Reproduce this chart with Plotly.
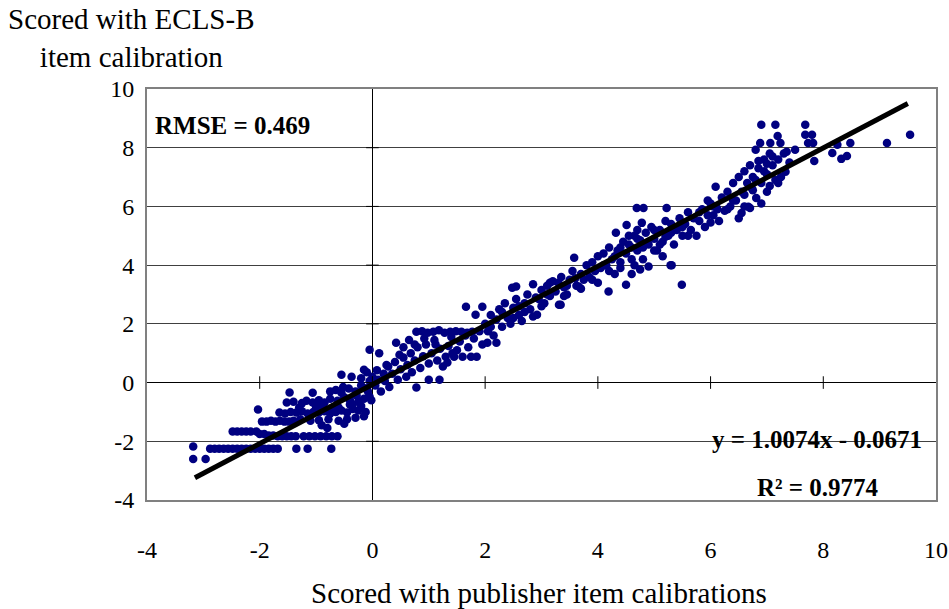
import plotly.graph_objects as go

# ---- data ----
x_low = [-3.18, -3.18, -2.96,
         -2.88, -2.80, -2.72, -2.64, -2.56, -2.48, -2.40, -2.32, -2.24, -2.16, -2.08, -2.00, -1.92, -1.84, -1.76, -1.68, -1.35, -1.15, -0.73,
         -2.48, -2.40, -2.32, -2.24, -2.16, -2.06,
         -2.00, -1.92, -1.84, -1.76, -1.68, -1.60, -1.52, -1.44, -1.36, -1.22, -1.12, -1.02, -0.92, -0.82, -0.72, -0.62]
y_low = [-2.18, -2.60, -2.60,
         -2.25, -2.25, -2.25, -2.25, -2.25, -2.25, -2.25, -2.25, -2.25, -2.25, -2.25, -2.25, -2.25, -2.25, -2.25, -2.25, -2.25, -2.25, -2.25,
         -1.67, -1.67, -1.67, -1.67, -1.67, -1.67,
         -1.75, -1.75, -1.80, -1.80, -1.83, -1.83, -1.83, -1.83, -1.83, -1.83, -1.83, -1.83, -1.83, -1.83, -1.83, -1.83]

x_neg = [-2.03, -1.96, -1.88, -1.80, -1.72, -1.64, -1.56, -1.48, -1.40,
         -1.65, -1.55, -1.45, -1.35, -1.25, -1.15, -1.05, -0.95, -0.85, -0.75, -0.65, -0.55, -0.45, -0.35, -0.25, -0.12,
         -1.28, -1.10, -0.95, -0.78, -0.60, -0.45, -0.30, -0.15,
         -1.52, -1.40, -1.25, -1.17, -1.06, -0.95, -0.85, -0.75, -0.62, -0.50, -0.40, -0.28, -0.15, -0.05,
         -1.47, -1.06, -0.75, -0.65, -0.55, -0.42, -0.30, -0.20, -0.10, -0.05,
         -0.55, -0.37, -0.20, -0.10, 0.00, 0.08, -0.15, -0.05, 0.12,
         -0.80, -0.50, -0.20, -0.35, -0.60, -0.90, -0.08, -0.02,
         -1.30, -0.88, -0.70, -0.40, -0.25, -0.12, -1.00, -0.52]
y_neg = [-0.92, -1.33, -1.33, -1.30, -1.33, -1.30, -1.33, -1.33, -1.30,
         -1.02, -1.05, -1.00, -1.02, -0.98, -1.05, -1.00, -1.02, -0.98, -1.05, -1.00, -0.95, -1.02, -0.90, -0.95, -1.00,
         -1.25, -1.30, -1.28, -1.25, -1.30, -1.25, -1.20, -1.15,
         -0.68, -0.65, -0.70, -0.62, -0.68, -0.60, -0.68, -0.55, -0.62, -0.50, -0.60, -0.45, -0.55, -0.48,
         -0.34, -0.35, -0.30, -0.25, -0.35, -0.20, -0.30, -0.10, -0.20, 0.05,
         0.27, 0.20, 0.15, 0.35, 0.20, 0.42, 0.44, 1.12, 1.00,
         -1.55, -1.40, -0.80, -0.75, -0.85, -1.45, -0.30, -0.60,
         -0.85, -0.80, -0.85, -0.75, -0.65, -0.20, -0.82, -0.15]

x_mid = [0.05, 0.10, 0.15, 0.20, 0.22, 0.28, 0.30, 0.35, 0.40, 0.42, 0.45, 0.50, 0.55, 0.60, 0.62, 0.68, 0.70, 0.75, 0.78, 0.80,
         0.85, 0.90, 0.95, 1.00, 1.00, 1.05, 1.10, 1.15, 1.19, 1.20, 1.25, 1.30, 1.33, 1.35, 1.40, 1.45, 1.50, 1.55, 1.60, 1.65,
         1.70, 1.75, 1.80, 1.85, 1.90, 1.95,
         0.78, 0.88, 0.98, 1.08, 1.18, 1.28, 1.38, 1.48, 1.58, 1.68, 1.77,
         1.66, 1.95, 1.83, 2.04, 2.20, 0.65, 0.75, 0.92, 0.55, 0.25, 0.48, 1.12, 1.42]
y_mid = [-0.10, 0.10, -0.30, 0.30, 0.05, 0.55, -0.15, 0.30, 0.70, 1.36, 0.10, 0.45, 0.85, 0.20, 0.60, 1.00, 0.35, 0.75, -0.17, 1.20,
         0.50, 0.90, 1.30, 0.10, 0.65, 1.00, 1.45, 0.75, 0.10, 1.15, 0.55, 0.88, 0.68, 1.25, 1.55, 0.88, 1.10, 1.40, 0.88, 1.60,
         1.20, 0.88, 1.50, 0.88, 1.75, 1.30,
         1.73, 1.75, 1.70, 1.73, 1.78, 1.70, 1.73, 1.75, 1.73, 1.70, 1.73,
         2.58, 2.58, 2.31, 1.36, 1.36, 1.45, 1.30, 1.50, 1.20, 0.60, 0.95, 1.30, 1.00]

x_up = [2.00, 2.05, 2.10, 2.15, 2.20, 2.25, 2.30, 2.35, 2.40, 2.45, 2.50, 2.55, 2.60, 2.65, 2.70, 2.75, 2.80, 2.85, 2.92, 2.95,
        3.00, 3.05, 3.10, 3.15, 3.20, 3.25, 3.31, 3.35, 3.40, 3.45, 3.50, 3.55, 3.58, 3.62, 3.66, 3.70, 3.75, 3.80, 3.85, 3.90,
        3.95, 4.00, 4.00,
        2.10, 2.30, 2.50, 2.60, 2.70, 2.90, 3.00, 3.10, 3.30, 3.45, 3.60, 3.70, 3.90, 2.48, 2.55, 2.85, 3.15, 3.40, 3.34]
y_up = [2.00, 1.75, 2.30, 1.60, 2.15, 2.50, 1.90, 2.70, 2.20, 2.00, 2.55, 2.85, 2.30, 2.10, 2.70, 3.00, 2.50, 2.25, 2.31, 2.85,
        3.15, 2.70, 3.30, 2.95, 3.45, 3.10, 2.65, 3.60, 3.25, 3.00, 3.50, 3.80, 4.25, 3.30, 3.27, 3.70, 3.50, 4.00, 3.60, 4.10,
        3.80, 3.40, 4.30,
        1.90, 2.40, 2.20, 2.60, 2.40, 2.90, 2.60, 3.00, 3.40, 3.30, 3.55, 3.20, 3.50, 3.23, 3.27, 3.35, 3.40, 2.95, 2.65]

x_high = [4.05, 4.10, 4.15, 4.19, 4.20, 4.25, 4.30, 4.32, 4.35, 4.40, 4.45, 4.50, 4.50, 4.51, 4.55, 4.60, 4.65, 4.69, 4.70, 4.75,
          4.78, 4.80, 4.81, 4.85, 4.90, 4.90, 4.95, 5.00, 5.05, 5.10, 5.15, 5.20, 5.20, 5.22, 5.25, 5.30, 5.31, 5.35, 5.40, 5.45,
          5.49, 5.50, 5.55, 5.60, 5.65, 5.70, 5.75, 5.80, 5.85, 5.90, 5.95, 6.00, 6.00,
          4.10, 4.30, 4.40, 4.60, 4.70, 4.80, 5.00, 5.10, 5.30, 5.50, 5.60, 5.80, 4.20, 4.40, 4.60, 4.65, 4.75, 4.55, 4.70,
          5.29, 5.00, 5.15, 5.95, 6.05, 6.12]
y_high = [3.90, 4.40, 4.00, 3.10, 4.60, 4.20, 3.70, 5.10, 4.50, 4.10, 4.80, 3.33, 4.40, 5.37, 4.70, 4.20, 5.00, 5.95, 4.50, 4.85,
          5.44, 4.20, 5.95, 5.10, 3.95, 4.70, 5.30, 4.90, 4.50, 5.20, 4.80, 4.97, 5.50, 5.95, 5.00, 5.40, 4.00, 4.70, 5.20, 5.60,
          3.33, 5.00, 5.40, 5.80, 5.20, 5.60, 5.00, 5.50, 5.90, 5.30, 5.70, 6.10, 5.45,
          4.00, 4.30, 4.60, 4.60, 4.90, 4.60, 5.20, 4.70, 5.10, 5.30, 5.00, 5.80, 3.80, 3.90, 3.70, 4.00, 3.85, 5.00, 5.20,
          4.00, 4.50, 4.30, 6.20, 6.00, 5.90]

x_top = [6.05, 6.09, 6.10, 6.15, 6.20, 6.25, 6.30, 6.35, 6.40, 6.45, 6.50, 6.55, 6.55, 6.60, 6.60, 6.65, 6.67, 6.70, 6.70, 6.73,
         6.75, 6.80, 6.81, 6.85, 6.88, 6.90, 6.90, 6.95, 7.00, 7.00, 7.05, 7.06, 7.10, 7.15, 7.15, 7.19, 7.20, 7.24, 7.25, 7.30,
         7.33, 7.35, 7.40, 7.50, 7.68, 7.68, 7.73, 7.80, 7.82, 7.84, 8.16, 8.25, 8.32, 8.42, 8.48, 9.13, 9.54,
         6.60, 6.80, 6.85, 6.95, 7.00, 7.05, 7.10, 6.75, 6.90, 7.20, 6.40, 6.50, 6.30]
y_top = [5.70, 6.67, 6.00, 5.50, 6.30, 5.85, 6.50, 6.00, 6.80, 6.20, 7.00, 5.78, 6.50, 7.20, 6.00, 6.80, 5.99, 5.95, 7.40, 6.63,
         7.00, 7.93, 6.29, 7.30, 8.16, 8.78, 6.80, 7.60, 7.10, 6.50, 7.80, 8.16, 7.40, 8.78, 6.90, 8.40, 7.60, 8.16, 7.00, 7.80,
         7.18, 7.86, 7.50, 7.93, 8.78, 8.44, 8.16, 8.44, 8.16, 7.55, 7.82, 8.10, 7.62, 7.72, 8.16, 8.16, 8.44,
         6.40, 6.90, 7.55, 7.20, 7.45, 6.70, 7.70, 6.55, 6.10, 6.80, 6.20, 5.60, 5.90]

# trendline reported on the chart
slope = 1.0074
intercept = -0.0671
r_squared = 0.9774
rmse = 0.469
fit_x = [-3.15, 9.50]

x_ticks = [-4, -2, 0, 2, 4, 6, 8, 10]
y_ticks = [-4, -2, 0, 2, 4, 6, 8, 10]

xs = x_low + x_neg + x_mid + x_up + x_high + x_top
ys = y_low + y_neg + y_mid + y_up + y_high + y_top

fig = go.Figure()

fig.add_trace(go.Scatter(x=xs, y=ys, mode="markers",
                         marker=dict(color="#000080", size=8.5, line=dict(width=0)),
                         showlegend=False, hoverinfo="skip"))

fig.add_trace(go.Scatter(x=fit_x, y=[slope * v + intercept for v in fit_x], mode="lines",
                         line=dict(color="black", width=5), showlegend=False, hoverinfo="skip"))

# tick marks crossing the axes at zero
inner_x = [t for t in x_ticks if t not in (x_ticks[0], x_ticks[-1])]
inner_y = [t for t in y_ticks if t not in (y_ticks[0], y_ticks[-1])]
fig.add_trace(go.Scatter(x=inner_x, y=[0] * len(inner_x), mode="markers",
                         marker=dict(symbol="line-ns", size=9, line=dict(color="black", width=1)),
                         showlegend=False, hoverinfo="skip"))
fig.add_trace(go.Scatter(x=[0] * len(inner_y), y=inner_y, mode="markers",
                         marker=dict(symbol="line-ew", size=9, line=dict(color="black", width=1)),
                         showlegend=False, hoverinfo="skip"))

font_family = "Liberation Serif, Times New Roman, serif"

fig.update_layout(
    width=949, height=609,
    margin=dict(l=147, r=13, t=89, b=109, autoexpand=False),
    paper_bgcolor="white", plot_bgcolor="white",
    font=dict(family=font_family, color="black", size=24),
    xaxis=dict(range=[-4, 10], tickvals=x_ticks, ticktext=[str(t) for t in x_ticks],
               showgrid=False, zeroline=True, zerolinecolor="black", zerolinewidth=1,
               showline=True, linecolor="#808080", linewidth=2, mirror=True, automargin=False,
               ticklabeloverflow="allow",
               ticks="", ticklabelstandoff=27, tickfont=dict(size=24, family=font_family)),
    yaxis=dict(range=[-4, 10], tickvals=y_ticks, ticktext=[str(t) for t in y_ticks],
               showgrid=True, gridcolor="#404040", gridwidth=1,
               zeroline=True, zerolinecolor="black", zerolinewidth=1,
               showline=True, linecolor="#808080", linewidth=2, mirror=True, automargin=False,
               ticklabeloverflow="allow",
               ticks="", ticklabelstandoff=6, tickfont=dict(size=24, family=font_family)),
)

fig.add_annotation(text="Scored with ECLS-B<br>item calibration", xref="paper", yref="paper",
                   x=-0.0202, y=1.124, xanchor="center", yanchor="middle", showarrow=False,
                   align="center", font=dict(size=29, family=font_family))
fig.add_annotation(text="Scored with publisher item calibrations", xref="paper", yref="paper",
                   x=0.497, y=-0.226, xanchor="center", yanchor="middle", showarrow=False,
                   font=dict(size=29, family=font_family))
fig.add_annotation(text=f"<b>RMSE = {rmse}</b>", xref="paper", yref="paper",
                   x=0.0076, y=0.912, xanchor="left", yanchor="middle", showarrow=False,
                   font=dict(size=25, family=font_family))
fig.add_annotation(text=f"<b>y = {slope}x - {abs(intercept)}</b>", xref="paper", yref="paper",
                   x=0.985, y=0.146, xanchor="right", yanchor="middle", showarrow=False,
                   font=dict(size=25, family=font_family))
fig.add_annotation(text=f"<b>R² = {r_squared}</b>", xref="paper", yref="paper",
                   x=0.93, y=0.0316, xanchor="right", yanchor="middle", showarrow=False,
                   font=dict(size=25, family=font_family))

fig.write_html("out.html")
